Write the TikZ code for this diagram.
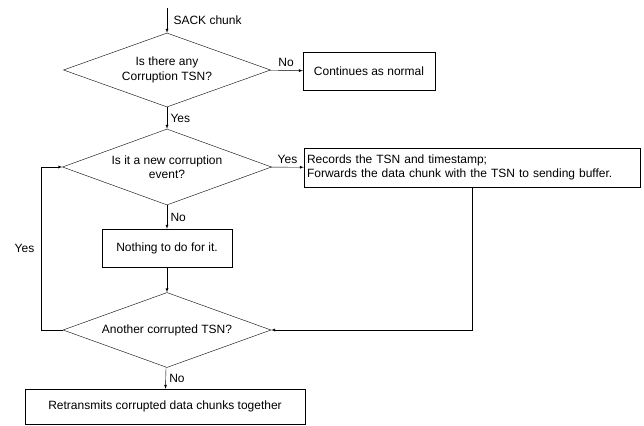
\documentclass[tikz,border=0pt]{standalone}
\usepackage{fontspec}
\setmainfont{Liberation Sans}
\usepackage{tikz}
\usetikzlibrary{positioning, arrows, shapes}

\begin{document}
\begin{tikzpicture}[
            x=1pt, y=-1pt,
            font=\fontsize{12}{14.5}\selectfont,
            >=latex,
            block/.style={rectangle, draw, inner sep=3pt},
            decision/.style={diamond, draw, align=center, inner sep=0pt, shape aspect=2.8},
        ]
            \useasboundingbox (0,0) rectangle (644,425);

            \coordinate (start) at (167,8);
            \node[decision, minimum width=207pt, minimum height=74pt] (corrupt) at (167,70)
                {Is there any\\Corruption TSN?};
            \node[block, minimum width=132pt, minimum height=38pt] (normal) at (369,71)
                {Continues as normal};
            \node[decision, minimum width=209pt, minimum height=76pt] (newevent) at (167,167)
                {Is it a new corruption\\event?};
            \node[block, align=left, text width=330pt, minimum height=39pt] (record) at (472,167.5)
                {Records the TSN and timestamp;\\Forwards the data chunk with the TSN to sending buffer.};
            \node[block, minimum width=130pt, minimum height=38pt] (nothing) at (167,248)
                {Nothing to do for it.};
            \node[decision, minimum width=208pt, minimum height=75pt] (another) at (167,330)
                {Another corrupted TSN?};
            \node[block, minimum width=280pt, minimum height=35pt] (retransmit) at (165,406.5)
                {Retransmits corrupted data chunks together};

            % main flow
            \draw[->] (start) -- node[right, xshift=3pt] {SACK chunk} (corrupt);
            \draw[->] (corrupt) -- node[above] {No} (normal);
            \draw[->] (corrupt) -- node[right] {Yes} (newevent);
            \draw[->] (newevent) -- node[above] {Yes} (record);
            \draw[->] (newevent) -- node[right] {No} (nothing);
            \draw[->] (nothing) -- (another);
            \draw[->] (another) -- node[right] {No} (retransmit);

            % loops back
            \draw[->] (record.south) |- (another.east);
            \draw[->] (another.west) -- ++(-22,0) |- node[pos=0.25, left, xshift=-3pt] {Yes} (newevent.west);
        \end{tikzpicture}
\end{document}
